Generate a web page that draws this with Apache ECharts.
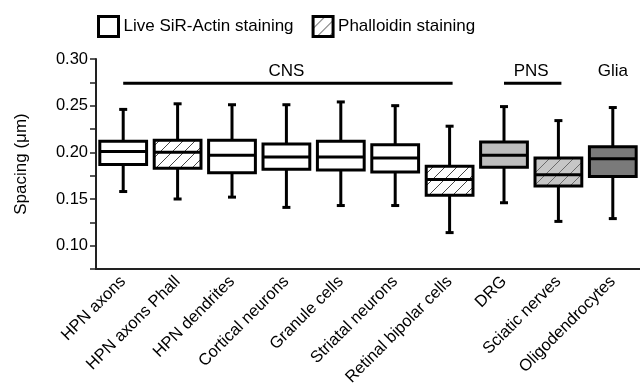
<!DOCTYPE html>
<html>
<head>
<meta charset="utf-8">
<script src="https://cdn.jsdelivr.net/npm/echarts@6/dist/echarts.min.js"></script>
<style>
  html, body { margin: 0; padding: 0; background: #fff; }
  #chart { width: 640px; height: 389px; }
</style>
</head>
<body>
<div id="chart"></div>
<script>
// categories along the x axis
const categories = [
  'HPN axons', 'HPN axons Phall', 'HPN dendrites', 'Cortical neurons', 'Granule cells',
  'Striatal neurons', 'Retinal bipolar cells', 'DRG', 'Sciatic nerves', 'Oligodendrocytes'
];
// box statistics (μm)
const whiskerLow  = [0.158, 0.150, 0.152, 0.141, 0.143, 0.143, 0.114, 0.146, 0.126, 0.129];
const quartile1   = [0.187, 0.183, 0.178, 0.182, 0.181, 0.179, 0.154, 0.184, 0.164, 0.174];
const medians     = [0.201, 0.200, 0.197, 0.195, 0.195, 0.194, 0.171, 0.197, 0.176, 0.193];
const quartile3   = [0.212, 0.213, 0.213, 0.209, 0.212, 0.208, 0.185, 0.211, 0.194, 0.206];
const whiskerHigh = [0.246, 0.252, 0.251, 0.251, 0.254, 0.250, 0.228, 0.249, 0.234, 0.248];
// staining method per category
const staining = ['live', 'phall', 'live', 'live', 'live', 'live', 'phall', 'live', 'phall', 'live'];
// tissue groups drawn above the boxes
const groupNames = ['CNS', 'PNS', 'Glia'];
const groupFrom  = [0, 7, 9];
const groupTo    = [6, 8, 9];
// y axis tick labels
const yTickLabels = ['0.10', '0.15', '0.20', '0.25', '0.30'];

const seriesNames = { live: 'Live SiR-Actin staining', phall: 'Phalloidin staining' };

// hatch pattern helper
function hatch(bg, lineColor) {
  const c = document.createElement('canvas');
  c.width = 12; c.height = 12;
  const ctx = c.getContext('2d');
  ctx.fillStyle = bg;
  ctx.fillRect(0, 0, 12, 12);
  ctx.strokeStyle = lineColor;
  ctx.lineWidth = 1;
  ctx.beginPath();
  ctx.moveTo(-1, 13); ctx.lineTo(13, -1);
  ctx.moveTo(-7, 7); ctx.lineTo(7, -7);
  ctx.moveTo(5, 19); ctx.lineTo(19, 5);
  ctx.stroke();
  return { image: c, repeat: 'repeat' };
}

const whiteHatch = hatch('#ffffff', '#444444');
const greyHatch = hatch('#c6c6c6', '#6a6a6a');
const boxFills = ['#ffffff', whiteHatch, '#ffffff', '#ffffff', '#ffffff', '#ffffff', whiteHatch, '#bdbdbd', greyHatch, '#7a7a7a'];

function boxData(kind) {
  const out = [];
  categories.forEach((c, i) => {
    if (staining[i] === kind) {
      out.push([i, whiskerLow[i], quartile1[i], medians[i], quartile3[i], whiskerHigh[i]]);
    }
  });
  return out;
}

function renderBox(params, api) {
  const idx = api.value(0);
  const lo = api.coord([idx, api.value(1)]);
  const q1 = api.coord([idx, api.value(2)]);
  const md = api.coord([idx, api.value(3)]);
  const q3 = api.coord([idx, api.value(4)]);
  const hi = api.coord([idx, api.value(5)]);
  const cx = lo[0];
  const bw = api.size([1, 0])[0] * 0.86;
  const cap = 4;
  const stroke = { stroke: '#000', lineWidth: 3 };
  return {
    type: 'group',
    children: [
      { type: 'line', shape: { x1: cx, y1: hi[1], x2: cx, y2: q3[1] }, style: stroke },
      { type: 'line', shape: { x1: cx, y1: q1[1], x2: cx, y2: lo[1] }, style: stroke },
      { type: 'line', shape: { x1: cx - cap, y1: hi[1], x2: cx + cap, y2: hi[1] }, style: stroke },
      { type: 'line', shape: { x1: cx - cap, y1: lo[1], x2: cx + cap, y2: lo[1] }, style: stroke },
      {
        type: 'rect',
        shape: { x: cx - bw / 2, y: q3[1], width: bw, height: q1[1] - q3[1] },
        style: { fill: boxFills[idx], stroke: '#000', lineWidth: 3 }
      },
      { type: 'line', shape: { x1: cx - bw / 2, y1: md[1], x2: cx + bw / 2, y2: md[1] }, style: stroke }
    ]
  };
}

const groupLevel = 0.274;

function renderGroup(params, api) {
  const a = api.coord([api.value(0), groupLevel]);
  const b = api.coord([api.value(1), groupLevel]);
  const children = [];
  if (b[0] > a[0]) {
    children.push({ type: 'line', shape: { x1: a[0], y1: a[1], x2: b[0] + 3, y2: a[1] }, style: { stroke: '#000', lineWidth: 3 } });
  }
  children.push({
    type: 'text',
    style: {
      x: (a[0] + b[0]) / 2, y: a[1] - 12,
      text: groupNames[params.dataIndex],
      fill: '#000', fontSize: 17, fontFamily: 'Liberation Sans',
      align: 'center', verticalAlign: 'middle'
    }
  });
  return { type: 'group', children };
}

const chart = echarts.init(document.getElementById('chart'));

chart.setOption({
  animation: false,
  textStyle: { fontFamily: 'Liberation Sans' },
  legend: {
    left: 92,
    top: 10,
    itemWidth: 20,
    itemHeight: 20,
    itemGap: 18,
    textStyle: { fontSize: 17, color: '#000', fontFamily: 'Liberation Sans' },
    data: [
      { name: seriesNames.live, icon: 'rect', itemStyle: { color: '#fff', borderColor: '#000', borderWidth: 3 } },
      { name: seriesNames.phall, icon: 'rect', itemStyle: { color: whiteHatch, borderColor: '#000', borderWidth: 3 } }
    ]
  },
  grid: { left: 96, top: 59, width: 553, height: 210 },
  xAxis: {
    type: 'category',
    data: categories,
    boundaryGap: true,
    axisLine: { lineStyle: { color: '#222', width: 2 } },
    axisTick: { alignWithLabel: true, length: 6, lineStyle: { color: '#222', width: 2 } },
    axisLabel: { interval: 0, rotate: 45, fontSize: 16.5, color: '#000', margin: 10 }
  },
  yAxis: {
    type: 'value',
    min: 0.075,
    max: 0.30,
    interval: 0.025,
    name: 'Spacing (μm)',
    nameLocation: 'middle',
    nameGap: 66,
    nameTextStyle: { fontSize: 17, color: '#000' },
    splitLine: { show: false },
    axisLine: { show: true, lineStyle: { color: '#222', width: 2 } },
    axisTick: { show: true, length: 6, lineStyle: { color: '#222', width: 1.5 } },
    axisLabel: {
      fontSize: 16.5, color: '#000', margin: 8,
      formatter: v => {
        const s = v.toFixed(2);
        return (Math.round(v * 1000) % 50 === 0 && yTickLabels.includes(s)) ? s : '';
      }
    }
  },
  series: [
    {
      name: seriesNames.live,
      type: 'custom',
      renderItem: renderBox,
      encode: { x: 0, y: [1, 2, 3, 4, 5] },
      data: boxData('live'),
      z: 3
    },
    {
      name: seriesNames.phall,
      type: 'custom',
      renderItem: renderBox,
      encode: { x: 0, y: [1, 2, 3, 4, 5] },
      data: boxData('phall'),
      z: 3
    },
    {
      type: 'custom',
      renderItem: renderGroup,
      encode: { x: [0, 1] },
      data: groupNames.map((n, i) => [groupFrom[i], groupTo[i]]),
      silent: true,
      z: 2
    }
  ]
});
</script>
</body>
</html>
